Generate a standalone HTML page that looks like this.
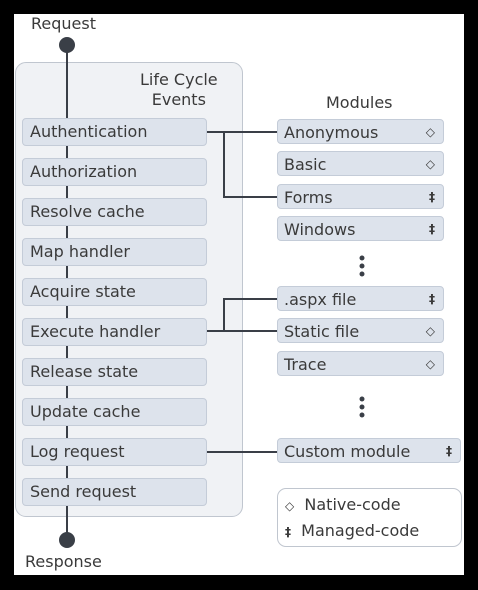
<!DOCTYPE html>
<html><head><style>
body{margin:0;width:478px;height:590px;background:#000;position:relative;overflow:hidden;font-family:"DejaVu Sans","Liberation Sans",sans-serif;color:#3a3a3a}
.w{position:absolute;left:14px;top:14px;width:450px;height:561px;background:#fff}
.a{position:absolute}
.ev{position:absolute;left:22px;width:185px;height:28px;background:#dde3ec;border:1px solid #c4ccd8;border-radius:4px;font-size:16px;line-height:26px;padding-left:7px;box-sizing:border-box}
.md{position:absolute;left:277px;width:167px;height:25px;background:#dde3ec;border:1px solid #c4ccd8;border-radius:4px;font-size:16px;line-height:25px;padding-left:6px;box-sizing:border-box}
.ic{position:absolute;right:8px;top:0;font-size:12px;font-weight:bold}
.t{position:absolute;font-size:16px}
</style></head><body>
<div class="w"></div>
<div class="a" style="left:15px;top:62px;width:226px;height:453px;background:#f0f2f5;border:1px solid #c0c6cf;border-radius:11px"></div>
<div class="t" style="left:31px;top:14px">Request</div>
<div class="t" style="left:25px;top:552px">Response</div>
<div class="t" style="left:140px;top:70px;text-align:center;line-height:20px">Life Cycle<br>Events</div>
<div class="t" style="left:326px;top:93px">Modules</div>
<svg class="a" style="left:0;top:0" width="478" height="590">
<line x1="67" y1="45" x2="67" y2="540" stroke="#3a3f47" stroke-width="2"/>
<circle cx="67" cy="45" r="8" fill="#3a3f47"/><circle cx="67" cy="540" r="8" fill="#3a3f47"/>
<g stroke="#3a3f47" stroke-width="2" fill="none">
<path d="M207 132H277M224 132V197H277"/>
<path d="M207 331H277M224 331V299H277"/>
<path d="M207 452H277"/>
</g>
<g fill="#3a3f47"><circle cx="362" cy="258" r="2.5"/><circle cx="362" cy="266" r="2.5"/><circle cx="362" cy="274" r="2.5"/>
<circle cx="362" cy="399" r="2.5"/><circle cx="362" cy="407" r="2.5"/><circle cx="362" cy="415" r="2.5"/></g>
</svg>
<div class="ev" style="top:118px">Authentication</div>
<div class="ev" style="top:158px">Authorization</div>
<div class="ev" style="top:198px">Resolve cache</div>
<div class="ev" style="top:238px">Map handler</div>
<div class="ev" style="top:278px">Acquire state</div>
<div class="ev" style="top:318px">Execute handler</div>
<div class="ev" style="top:358px">Release state</div>
<div class="ev" style="top:398px">Update cache</div>
<div class="ev" style="top:438px">Log request</div>
<div class="ev" style="top:478px">Send request</div>
<div class="md" style="top:119px">Anonymous<span class="ic">◇</span></div>
<div class="md" style="top:151px">Basic<span class="ic">◇</span></div>
<div class="md" style="top:184px">Forms<span class="ic">‡</span></div>
<div class="md" style="top:216px">Windows<span class="ic">‡</span></div>
<div class="md" style="top:286px">.aspx file<span class="ic">‡</span></div>
<div class="md" style="top:318px">Static file<span class="ic">◇</span></div>
<div class="md" style="top:351px">Trace<span class="ic">◇</span></div>
<div class="md" style="top:438px;width:184px">Custom module<span class="ic">‡</span></div>
<div class="a" style="left:277px;top:488px;width:183px;height:57px;border:1px solid #c0c6cf;border-radius:9px;background:#fff"></div>
<div class="t" style="left:285px;top:495px"><span style="font-size:12px;font-weight:bold">◇</span>&nbsp; Native-code</div>
<div class="t" style="left:285px;top:521px"><span style="font-size:12px;font-weight:bold">‡</span>&nbsp; Managed-code</div>
</body></html>
